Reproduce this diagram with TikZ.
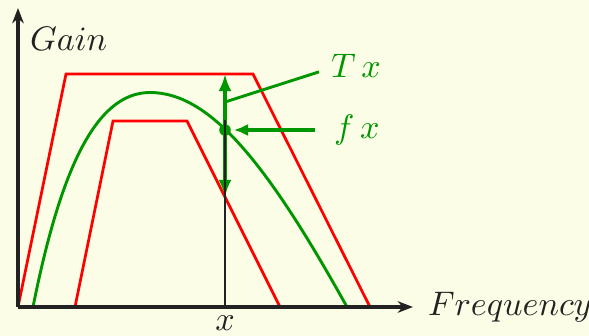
\documentclass[tikz,border=0pt]{standalone}
\usepackage{xcolor}
\usetikzlibrary{positioning, arrows.meta, calc}

\definecolor{paper}{RGB}{252,253,230}
\definecolor{sgreen}{RGB}{0,150,0}
\definecolor{axisgray}{RGB}{34,34,34}

\begin{document}
\begin{tikzpicture}[
    x=0.2935pt, y=-0.2935pt,
    axis/.style={draw=axisgray, line width=0.95pt, -{Stealth[length=4.5pt, width=3.4pt]}},
    marker/.style={draw=axisgray, line width=0.8pt},
    band/.style={draw=red, line width=0.8pt},
    response/.style={draw=sgreen, line width=0.85pt},
    measure/.style={draw=sgreen, line width=1.4pt},
    pointer/.style={draw=sgreen, line width=1.1pt, -{Latex[length=4.2pt, width=3.6pt]}},
    axlabel/.style={font=\normalsize, text=axisgray},
    fnlabel/.style={font=\normalsize, text=sgreen}
]

% Hintergrund
\fill[paper] (0,0) rectangle (589,336);
\useasboundingbox (0,0) rectangle (589,336);

% Punkte
\coordinate (o) at (18,307);
\coordinate (ytop) at (18,8);
\coordinate (xend) at (413,307);
\coordinate (xbase) at (225,307);
\coordinate (xtop) at (225,120);
\coordinate (hi) at (225,74);
\coordinate (lo) at (225,197);
\coordinate (pt) at (225,130);
\coordinate (tfoot) at (225,102);

% Toleranzband
\draw[band] (o) -- (66,74) -- (253,74) -- (370,307);
\draw[band] (75,307) -- (113,121) -- (187,121) -- (280,307);

% Frequenzgang
\draw[response] (33,307) .. controls (60,172) and (95,92.5) .. (150,92.5)
    .. controls (210,92.5) and (267,163) .. (347,307);

% Achsen
\draw[axis] (o) -- (ytop);
\draw[axis] (o) -- (xend);

% Messung bei x
\draw[measure, {Latex[length=5pt, width=3.8pt]}-{Latex[length=5pt, width=3.8pt]}] (lo) -- (hi);
\fill[sgreen] (pt) circle (1.7pt);
\draw[marker] (xbase) -- (xtop);

% Beschriftungen
\node[axlabel, anchor=base west] (gain) at (18,50) {$Gain$};
\node[axlabel, anchor=base west] (freq) at (416,315) {$Frequency$};
\node[axlabel, below=-1pt of xbase] (xlab) {$x$};
\node[fnlabel, anchor=base west] (tx) at (319,77) {$T\,x$};
\node[fnlabel, anchor=base west] (fx) at (322,138.5) {$f\,x$};

\draw[response] (tx.190) -- (tfoot);
\draw[pointer, shorten <=2pt, shorten >=2.6pt] (fx.west) -- (fx.west -| pt);

\end{tikzpicture}
\end{document}
